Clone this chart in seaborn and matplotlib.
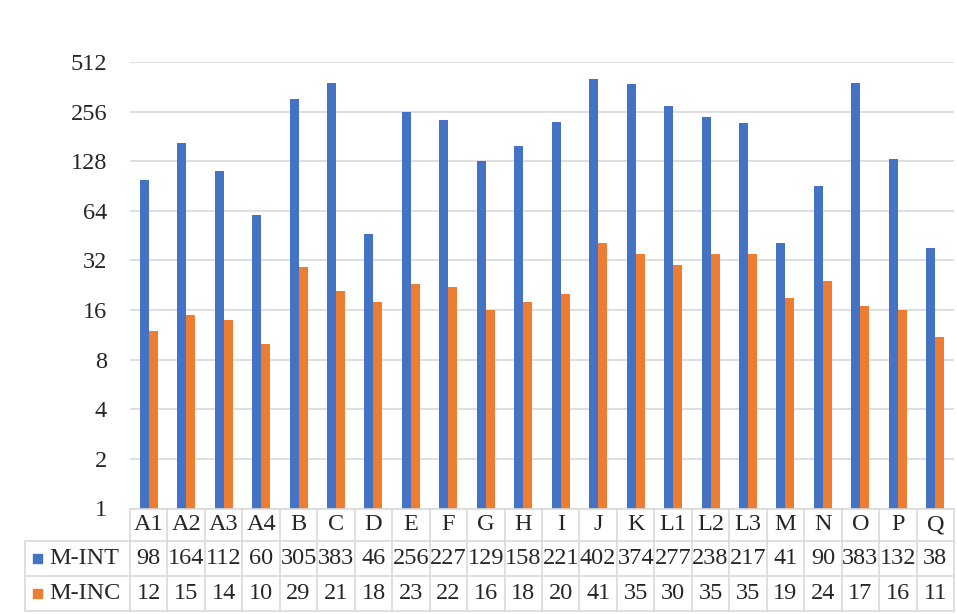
import matplotlib
matplotlib.use("Agg")
import matplotlib.pyplot as plt
import matplotlib.transforms as mtransforms
import pandas as pd
import seaborn as sns

categories = ["A1", "A2", "A3", "A4", "B", "C", "D", "E", "F", "G", "H",
              "I", "J", "K", "L1", "L2", "L3", "M", "N", "O", "P", "Q"]
m_int = [98, 164, 112, 60, 305, 383, 46, 256, 227, 129, 158,
         221, 402, 374, 277, 238, 217, 41, 90, 383, 132, 38]
m_inc = [12, 15, 14, 10, 29, 21, 18, 23, 22, 16, 18,
         20, 41, 35, 30, 35, 35, 19, 24, 17, 16, 11]
series_names = ["M-INT", "M-INC"]
colors = ["#4472C4", "#ED7D31"]
y_ticks = [1, 2, 4, 8, 16, 32, 64, 128, 256, 512]

df = pd.DataFrame({
    "category": categories * 2,
    "value": m_int + m_inc,
    "series": [series_names[0]] * len(categories) + [series_names[1]] * len(categories),
})

sns.set_style("white")
plt.rcParams["font.family"] = ["Liberation Serif", "DejaVu Serif"]
FS = 17.5
GRID = "#d9d9d9"

W, H = 957, 614
fig = plt.figure(figsize=(W / 100, H / 100), dpi=100)
ax = fig.add_axes([130 / W, (H - 508.5) / H, (954 - 130) / W, (508.5 - 62) / H])

sns.barplot(data=df, x="category", y="value", hue="series", palette=colors,
            width=0.48, ax=ax, legend=False, saturation=1,
            linewidth=0, edgecolor="none")
ax.set_yscale("log", base=2)
ax.set_ylim(1, 512)
ax.set_xlim(-0.5, len(categories) - 0.5)
ax.set_yticks(y_ticks)
ax.set_yticklabels([str(t) for t in y_ticks], fontsize=FS)
ax.yaxis.set_minor_locator(matplotlib.ticker.NullLocator())
ax.tick_params(axis="y", length=0, pad=16.5)
ax.set_xticks([])
ax.set_xlabel("")
ax.set_ylabel("")
for s in ax.spines.values():
    s.set_visible(False)
ax.grid(axis="y", color=GRID, linewidth=1.2)
ax.set_axisbelow(True)

# data table under the plot, pixel coords on a full-figure overlay
ov = fig.add_axes([0, 0, 1, 1], facecolor="none")
ov.set_xlim(0, W)
ov.set_ylim(H, 0)
ov.axis("off")
bt = mtransforms.blended_transform_factory(ax.transData, ov.transData)

rows_y = [508.5, 541, 576, 611]
n = len(categories)
lw = 1.2
# horizontal lines
ov.plot([-0.5, n - 0.5], [rows_y[0]] * 2, transform=bt, color=GRID, lw=lw, clip_on=False)
for y in rows_y[1:]:
    ov.plot([25, 130], [y, y], color=GRID, lw=lw, clip_on=False)
    ov.plot([-0.5, n - 0.5], [y, y], transform=bt, color=GRID, lw=lw, clip_on=False)
# vertical lines
for i in range(n + 1):
    ov.plot([i - 0.5] * 2, [rows_y[0], rows_y[-1]], transform=bt, color=GRID, lw=lw, clip_on=False)
ov.plot([25, 25], [rows_y[1], rows_y[-1]], color=GRID, lw=lw, clip_on=False)

for i, cat in enumerate(categories):
    ov.text(i, (rows_y[0] + rows_y[1]) / 2, cat, transform=bt, ha="center",
            va="center", fontsize=FS)
    ov.text(i, (rows_y[1] + rows_y[2]) / 2, str(m_int[i]), transform=bt,
            ha="center", va="center", fontsize=FS)
    ov.text(i, (rows_y[2] + rows_y[3]) / 2, str(m_inc[i]), transform=bt,
            ha="center", va="center", fontsize=FS)

for k, (name, col) in enumerate(zip(series_names, colors)):
    yc = (rows_y[k + 1] + rows_y[k + 2]) / 2
    ov.add_patch(plt.Rectangle((33, yc - 4.5), 9, 9, color=col))
    ov.text(49, yc, name, ha="left", va="center", fontsize=FS)

fig.savefig("out.png", dpi=100)
